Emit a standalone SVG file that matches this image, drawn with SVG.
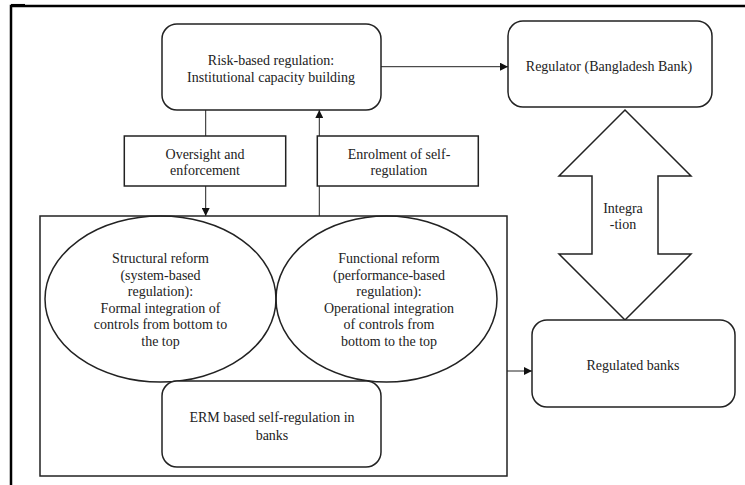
<svg xmlns="http://www.w3.org/2000/svg" width="745" height="485" viewBox="0 0 745 485">
  <style>
    .box { fill: #fff; stroke: #222; stroke-width: 1.5; }
    .plain { fill: none; stroke: #222; stroke-width: 1.5; }
    .wire { fill: none; stroke: #222; stroke-width: 1; }
    .frame { fill: none; stroke: #000; stroke-width: 2.5; }
    text { font-family: "Liberation Serif", "Times New Roman", serif; font-size: 14px; fill: #222; text-anchor: middle; dominant-baseline: central; }
  </style>
  <defs>
    <marker id="tip" viewBox="0 0 10 10" refX="10" refY="5" markerWidth="8" markerHeight="8" markerUnits="userSpaceOnUse" orient="auto">
      <path d="M0,0 L10,5 L0,10 Z" fill="#111"/>
    </marker>
  </defs>

  <rect width="745" height="485" fill="#fff"/>

  <!-- page frame -->
  <path class="frame" d="M11,485 V6 H745"/>
  <path d="M11,5.2 H25" stroke="#000" stroke-width="2.5"/>

  <!-- connectors -->
  <g id="connectors">
    <line class="wire" x1="381" y1="66.7" x2="508" y2="66.7" marker-end="url(#tip)"/>
    <line class="wire" x1="205.7" y1="110" x2="205.7" y2="136"/>
    <line class="wire" x1="205.7" y1="186" x2="205.7" y2="216" marker-end="url(#tip)"/>
    <line class="wire" x1="319.3" y1="216" x2="319.3" y2="110" marker-end="url(#tip)"/>
    <line class="wire" x1="507" y1="371" x2="532" y2="371" marker-end="url(#tip)"/>
    <!-- two-way integration arrow -->
    <path class="plain" d="M625,110 L691,176 H658 V254 H691 L625,320 L559,254 H592 V176 H559 Z"/>
    <text x="623" y="208">Integra</text>
    <text x="623" y="224.5">-tion</text>
  </g>

  <g id="risk-based">
    <rect class="box" x="162" y="24" width="219" height="86" rx="15"/>
    <text x="271" y="60">Risk-based regulation:</text>
    <text x="271" y="77">Institutional capacity building</text>
  </g>

  <g id="regulator">
    <rect class="box" x="508" y="21" width="204" height="86" rx="15"/>
    <text x="609" y="66.7">Regulator (Bangladesh Bank)</text>
  </g>

  <g id="oversight">
    <rect class="box" x="124.3" y="136" width="161.4" height="50"/>
    <text x="205" y="154">Oversight and</text>
    <text x="205" y="170.7">enforcement</text>
  </g>

  <g id="enrolment">
    <rect class="box" x="317.3" y="136" width="161" height="50"/>
    <text x="399" y="154">Enrolment of self-</text>
    <text x="399" y="170.7">regulation</text>
  </g>

  <g id="self-regulation">
    <rect class="box" x="40" y="216" width="467" height="260"/>
    <ellipse class="plain" cx="160.5" cy="299" rx="115.5" ry="83"/>
    <ellipse class="plain" cx="386.5" cy="299" rx="110.5" ry="83"/>
    <text x="160.5" y="258.3">Structural reform</text>
    <text x="160.5" y="275">(system-based</text>
    <text x="160.5" y="291.5">regulation):</text>
    <text x="160.5" y="308">Formal integration of</text>
    <text x="160.5" y="324.5">controls from bottom to</text>
    <text x="160.5" y="341">the top</text>
    <text x="389" y="258.3">Functional reform</text>
    <text x="389" y="275">(performance-based</text>
    <text x="389" y="291.5">regulation):</text>
    <text x="389" y="308">Operational integration</text>
    <text x="389" y="324.5">of controls from</text>
    <text x="389" y="341">bottom to the top</text>
    <rect class="box" x="162" y="381" width="219" height="86" rx="15"/>
    <text x="272" y="417">ERM based self-regulation in</text>
    <text x="272" y="435">banks</text>
  </g>

  <g id="regulated-banks">
    <rect class="box" x="532" y="320" width="203" height="87" rx="15"/>
    <text x="633" y="365">Regulated banks</text>
  </g>
</svg>
